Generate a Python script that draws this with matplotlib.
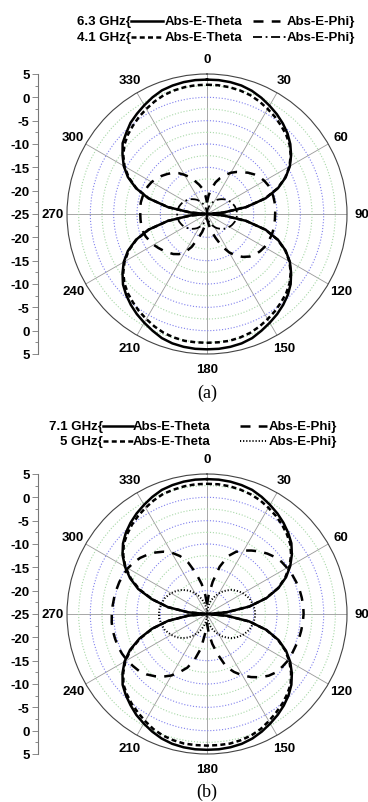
# -*- coding: utf-8 -*-
import numpy as np
import matplotlib
matplotlib.use("Agg")
import matplotlib.pyplot as plt
from matplotlib.lines import Line2D

plt.rcParams['font.family'] = ['Liberation Sans', 'DejaVu Sans']

# angles in degrees, 0 at top, clockwise, every 5 degrees
angles = np.arange(0, 360, 5)

# panel (a) -- values in dB
a_theta_63 = [3.8, 3.8, 3.7, 3.5, 3.1, 2.5, 1.8, 1.1, 0.3, -0.6, -1.7, -3.0, -4.5, -6.4, -8.8, -12.0, -16.5, -21.5,
              -25, -21.5, -16.5, -12.0, -8.8, -6.4, -4.5, -3.0, -1.6, -0.5, 0.4, 1.2, 1.9, 2.6, 3.3, 3.7, 3.9, 4.0,
              4.0, 4.0, 3.9, 3.7, 3.3, 2.6, 1.9, 1.2, 0.4, -0.5, -1.5, -2.9, -4.4, -6.3, -8.8, -12.0, -16.5, -21.5,
              -25, -21.5, -16.5, -12.0, -8.8, -6.3, -4.4, -2.9, -1.4, -0.5, 0.5, 1.2, 1.9, 2.6, 3.2, 3.5, 3.7, 3.8]
a_theta_41 = [2.7, 2.7, 2.6, 2.4, 2.1, 1.6, 1.0, 0.4, -0.3, -1.0, -1.9, -3.1, -4.6, -6.5, -8.9, -12.1, -16.5, -21.5,
              -25, -21.5, -16.5, -12.1, -8.9, -6.5, -4.6, -3.1, -1.9, -1.0, -0.3, 0.4, 1.0, 1.6, 2.1, 2.4, 2.6, 2.6,
              2.6, 2.6, 2.6, 2.4, 2.1, 1.6, 1.0, 0.4, -0.3, -1.0, -1.9, -3.1, -4.6, -6.5, -8.9, -12.1, -16.5, -21.5,
              -25, -21.5, -16.5, -12.1, -8.9, -6.5, -4.6, -3.1, -1.9, -1.0, -0.3, 0.4, 1.0, 1.6, 2.1, 2.4, 2.6, 2.7]
a_phi_63 = [-22.5, -21, -19.5, -18, -16.8, -15.8, -14.8, -14.0, -13.3, -12.5, -11.8, -11.2, -10.8, -10.5, -10.4, -10.3, -10.3, -10.3,
            -10.4, -10.4, -10.4, -10.4, -10.5, -10.6, -10.8, -11.1, -11.5, -12.1, -13.0, -14.1, -15.5, -17.3, -19.5, -21.0, -22.5, -23.5,
            -24, -23.5, -22.5, -21, -19.5, -17.2, -15.5, -14.5, -13.8, -13.3, -12.8, -12.3, -11.8, -11.4, -11.0, -10.8, -10.7, -10.7,
            -10.7, -10.6, -10.6, -10.7, -10.8, -11.0, -11.3, -11.8, -12.3, -12.9, -13.5, -14.3, -15.3, -16.3, -17.5, -18.5, -19.5, -21]
a_phi_41 = [-25, -24.4, -23.9, -23.3, -22.8, -22.3, -21.8, -21.3, -20.9, -20.5, -20.1, -19.8, -19.5, -19.2, -19.0, -18.8, -18.7, -18.6,
            -18.6, -18.6, -18.7, -18.8, -19.0, -19.2, -19.5, -19.8, -20.1, -20.5, -20.9, -21.3, -21.8, -22.3, -22.8, -23.3, -23.9, -24.4,
            -25, -24.4, -23.9, -23.3, -22.8, -22.3, -21.8, -21.3, -20.9, -20.5, -20.1, -19.8, -19.5, -19.2, -19.0, -18.8, -18.7, -18.6,
            -18.6, -18.6, -18.7, -18.8, -19.0, -19.2, -19.5, -19.8, -20.1, -20.5, -20.9, -21.3, -21.8, -22.3, -22.8, -23.3, -23.9, -24.4]

# panel (b)
b_theta_71 = [3.9, 3.9, 3.8, 3.6, 3.3, 2.7, 2.0, 1.3, 0.5, -0.4, -1.4, -2.8, -4.4, -6.3, -8.7, -11.8, -15.8, -20.8,
              -25, -20.8, -15.8, -11.8, -8.7, -6.3, -4.4, -2.8, -1.4, -0.3, 0.6, 1.4, 2.1, 2.8, 3.4, 3.8, 4.0, 4.1,
              4.1, 4.1, 4.0, 3.8, 3.4, 2.8, 2.1, 1.4, 0.5, -0.4, -1.4, -2.9, -4.6, -6.8, -9.6, -12.8, -16.5, -21,
              -25, -21, -16.5, -12.8, -9.3, -6.8, -4.7, -2.9, -1.5, -0.4, 0.5, 1.3, 2.0, 2.7, 3.3, 3.6, 3.8, 3.9]
b_theta_5 = [2.9, 2.9, 2.8, 2.6, 2.3, 1.9, 1.3, 0.7, 0.0, -0.8, -1.7, -3.0, -4.6, -6.5, -8.8, -11.9, -15.8, -20.8,
             -25, -20.8, -15.8, -11.9, -8.8, -6.5, -4.6, -3.0, -1.6, -0.7, 0.1, 0.8, 1.5, 2.2, 2.7, 3.0, 3.2, 3.2,
             3.2, 3.2, 3.2, 3.0, 2.7, 2.2, 1.5, 0.8, 0.1, -0.7, -1.6, -3.1, -4.8, -7.0, -9.8, -12.9, -16.5, -21,
             -25, -21, -16.5, -12.9, -9.6, -7.0, -4.8, -3.1, -1.7, -0.8, 0.0, 0.7, 1.3, 1.9, 2.4, 2.6, 2.8, 2.9]
b_phi_71 = [-23, -21, -18, -14.5, -11.8, -10.3, -9.3, -8.4, -7.5, -6.7, -6.0, -5.5, -5.2, -4.9, -4.7, -4.5, -4.4, -4.3,
            -4.3, -4.4, -4.5, -4.6, -4.8, -4.9, -5.0, -5.3, -5.6, -6.3, -7.3, -8.5, -9.8, -11.3, -13.0, -16.0, -18.5, -21,
            -23, -21, -17.5, -15, -12.8, -11.3, -9.8, -8.6, -7.6, -6.7, -6.0, -5.6, -5.2, -4.9, -4.7, -4.6, -4.5, -4.5,
            -4.6, -4.7, -4.8, -4.9, -5.0, -5.2, -5.4, -5.8, -6.3, -7.0, -7.8, -8.7, -9.8, -11.3, -13.3, -16.0, -18.5, -21]
b_phi_5 = [-25, -24.1, -23.2, -22.3, -21.5, -20.7, -19.9, -19.1, -18.4, -17.7, -17.1, -16.6, -16.1, -15.7, -15.3, -15.1, -14.9, -14.7,
           -14.7, -14.7, -14.9, -15.1, -15.3, -15.7, -16.1, -16.6, -17.1, -17.7, -18.4, -19.1, -19.9, -20.7, -21.5, -22.3, -23.2, -24.1,
           -25, -24.1, -23.2, -22.3, -21.5, -20.7, -19.9, -19.1, -18.4, -17.7, -17.1, -16.6, -16.1, -15.7, -15.3, -15.1, -14.9, -14.7,
           -14.7, -14.7, -14.9, -15.1, -15.3, -15.7, -16.1, -16.6, -17.1, -17.7, -18.4, -19.1, -19.9, -20.7, -21.5, -22.3, -23.2, -24.1]

theta_labels = ['0', '30', '60', '90', '120', '150', '180', '210', '240', '270', '300', '330']
r_labels = ['5', '0', '-5', '-10', '-15', '-20', '-25', '-20', '-15', '-10', '-5', '0', '5']

r_min, r_max = -25, 5   # dB at the centre and at the rim

W, H = 368, 803
fig = plt.figure(figsize=(W / 100, H / 100), dpi=100)

s_solid = dict(color='k', lw=1.8, ls='-')
s_short = dict(color='k', lw=1.8, ls=(0, (2.0, 1.3)))
s_long = dict(color='k', lw=1.8, ls=(0, (4.0, 3.3)))
s_dashdot = dict(color='k', lw=1.3, ls=(0, (5, 2, 1, 2)))
s_dot = dict(color='k', lw=1.4, ls=(0, (0.6, 1.0)))


def closed(v):
    return np.append(v, v[0])


th = np.deg2rad(closed(angles))


def polar_panel(cy, series):
    R = 140
    left = (207 - R) / W
    bottom = 1 - (cy + R) / H
    ax = fig.add_axes([left, bottom, 2 * R / W, 2 * R / H], projection='polar')
    ax.set_theta_zero_location('N')
    ax.set_theta_direction(-1)
    ax.set_ylim(r_min, r_max)
    ax.set_thetagrids(np.arange(0, 360, 30), theta_labels,
                      fontsize=9.5, fontweight='bold')
    ax.set_xticks(np.deg2rad(np.arange(0, 360, 10)), minor=True)
    ax.tick_params(axis='x', which='both', direction='in', length=3, width=0.6, color='#555555')
    ax.set_yticks([-20, -15, -10, -5, 0])
    ax.set_yticks([-22.5, -17.5, -12.5, -7.5, -2.5, 2.5], minor=True)
    ax.set_yticklabels([])
    ax.yaxis.grid(True, which='major', color='#8080ee', ls=':', lw=0.8)
    ax.yaxis.grid(True, which='minor', color='#a8d8a8', ls=':', lw=0.8)
    ax.xaxis.grid(True, which='major', color='#999999', ls='-', lw=0.6)
    ax.spines['polar'].set_color('#444444')
    ax.spines['polar'].set_linewidth(0.8)
    for vals, st in series:
        ax.plot(th, closed(vals), **st)

    # radial scale on the left
    rax = fig.add_axes([38 / W, bottom, 0.001, 2 * R / H])
    rax.set_ylim(-30, 30)
    rax.set_yticks(np.linspace(30, -30, 13))
    rax.set_yticklabels(r_labels, fontsize=9.5, fontweight='bold')
    rax.set_yticks(np.arange(-27.5, 30, 5), minor=True)
    rax.set_xticks([])
    for sp in ['top', 'right', 'bottom']:
        rax.spines[sp].set_visible(False)
    rax.spines['left'].set_color('#777777')
    rax.spines['left'].set_linewidth(0.8)
    rax.tick_params(axis='y', which='major', length=4, width=0.6, color='#777777', pad=2)
    rax.tick_params(axis='y', which='minor', length=2, width=0.6, color='#777777')
    rax.patch.set_visible(False)
    return ax


polar_panel(215, [(a_theta_63, s_solid), (a_theta_41, s_short),
                  (a_phi_63, s_long), (a_phi_41, s_dashdot)])
polar_panel(615, [(b_theta_71, s_solid), (b_theta_5, s_short),
                  (b_phi_71, s_long), (b_phi_5, s_dot)])


def fx(x):
    return x / W


def fy(y):
    return 1 - y / H


def legend_row(y, name, x_name, st1, x1a, x1b, x_theta, st2, x2a, x2b, x_phi):
    kw = dict(fontsize=9.5, fontweight='bold', va='center', transform=fig.transFigure)
    fig.text(fx(x_name), fy(y), name, ha='right', **kw)
    fig.add_artist(Line2D([fx(x1a), fx(x1b)], [fy(y), fy(y)], transform=fig.transFigure, **st1))
    fig.text(fx(x_theta), fy(y), 'Abs-E-Theta', ha='left', **kw)
    fig.add_artist(Line2D([fx(x2a), fx(x2b)], [fy(y), fy(y)], transform=fig.transFigure, **st2))
    fig.text(fx(x_phi), fy(y), 'Abs-E-Phi}', ha='right', **kw)


legend_row(22, '6.3 GHz{', 131, s_solid, 131, 163, 165, s_long, 253, 280, 355)
legend_row(38, '4.1 GHz{', 131, s_short, 131, 163, 165, s_dashdot, 253, 286, 355)
legend_row(427, '7.1 GHz{', 103, s_solid, 103, 133, 133, s_long, 240, 267, 337)
legend_row(442, '5 GHz{', 103, s_short, 103, 133, 133, s_dot, 240, 268, 337)

fig.text(fx(207), fy(393), '(a)', ha='center', va='center', fontsize=13,
         family=['Liberation Serif', 'DejaVu Serif'])
fig.text(fx(207), fy(792), '(b)', ha='center', va='center', fontsize=13,
         family=['Liberation Serif', 'DejaVu Serif'])

fig.savefig('out.png', dpi=100)
